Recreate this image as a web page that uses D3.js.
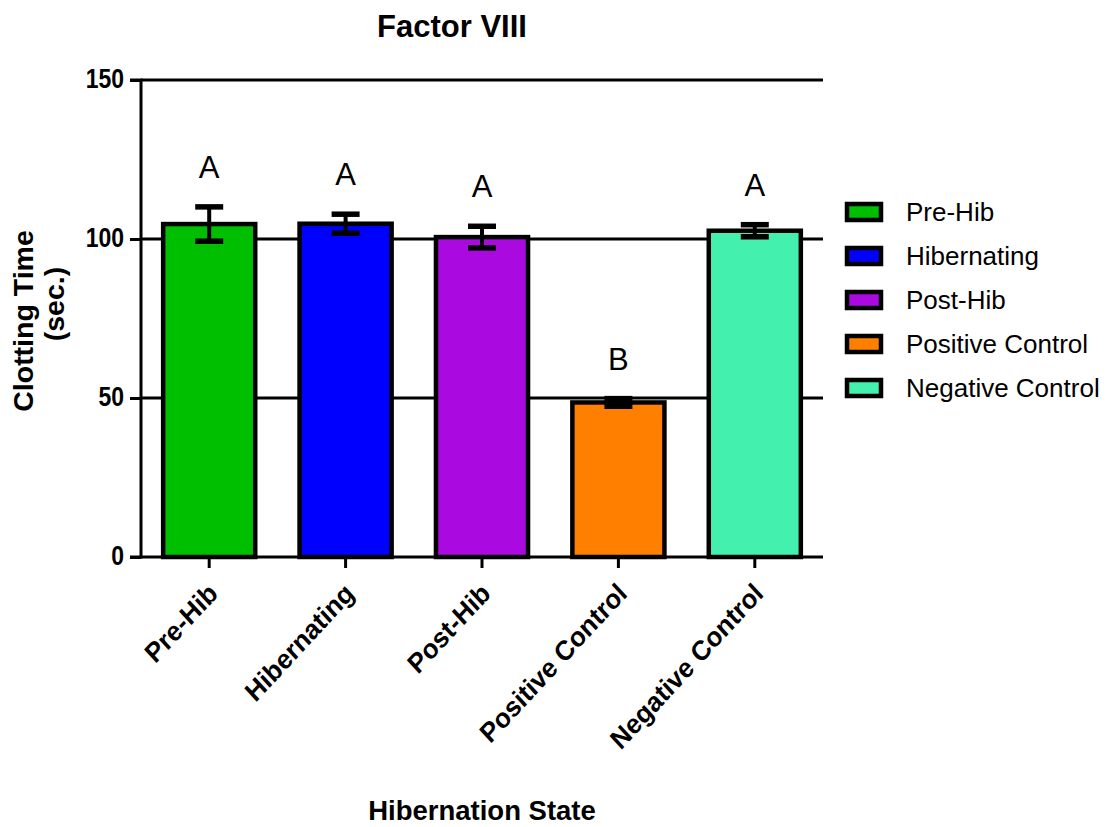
<!DOCTYPE html>
<html>
<head>
<meta charset="utf-8">
<script src="https://cdn.jsdelivr.net/npm/d3@7"></script>
<style>
  html, body { margin: 0; padding: 0; background: #fff; }
  svg { display: block; font-family: "Liberation Sans", Arial, Helvetica, sans-serif; }
</style>
</head>
<body>
<svg id="chart" width="1107" height="827"></svg>
<script>
// Factor VIII clotting time by hibernation state (mean ± SEM)
const categories = ["Pre-Hib", "Hibernating", "Post-Hib", "Positive Control", "Negative Control"];
const means = [104.7, 104.8, 100.6, 48.6, 102.6];
const sems = [5.4, 3.0, 3.4, 1.2, 1.9];
const letters = ["A", "A", "A", "B", "A"];
const colors = ["#00bf00", "#0000ff", "#aa0ae0", "#ff8000", "#43f0ae"];
const yTicks = [0, 50, 100, 150];

const svg = d3.select("#chart");
const plotLeft = 141, plotRight = 823, plotTop = 80, plotBottom = 557;

const x = d3.scaleBand()
  .domain(categories)
  .range([plotLeft, plotRight])
  .paddingInner(0.325)
  .paddingOuter(0.1625);

const y = d3.scaleLinear().domain([0, 150]).range([plotBottom, plotTop]);

// horizontal reference lines
svg.append("g")
  .selectAll("line")
  .data(yTicks.filter(d => d > 0))
  .join("line")
  .attr("x1", plotLeft).attr("x2", plotRight)
  .attr("y1", d => y(d)).attr("y2", d => y(d))
  .attr("stroke", "#000").attr("stroke-width", 3);

// bars
svg.append("g")
  .selectAll("rect")
  .data(categories)
  .join("rect")
  .attr("x", d => x(d))
  .attr("width", x.bandwidth())
  .attr("y", (d, i) => y(means[i]))
  .attr("height", (d, i) => y(0) - y(means[i]))
  .attr("fill", (d, i) => colors[i])
  .attr("stroke", "#000")
  .attr("stroke-width", 4.5);

// error bars
const eb = svg.append("g").attr("stroke", "#000");
categories.forEach((c, i) => {
  const cx = x(c) + x.bandwidth() / 2;
  const hi = y(means[i] + sems[i]);
  const lo = y(means[i] - sems[i]);
  eb.append("line").attr("x1", cx).attr("x2", cx).attr("y1", hi).attr("y2", lo).attr("stroke-width", 4);
  [hi, lo].forEach(v => {
    eb.append("line").attr("x1", cx - 14).attr("x2", cx + 14).attr("y1", v).attr("y2", v).attr("stroke-width", 5.5);
  });
});

// significance letters
svg.append("g")
  .selectAll("text")
  .data(categories)
  .join("text")
  .attr("x", d => x(d) + x.bandwidth() / 2)
  .attr("y", (d, i) => y(means[i] + sems[i]) - 29)
  .attr("text-anchor", "middle")
  .attr("font-size", 31)
  .text((d, i) => letters[i]);

// y axis
const yAxis = svg.append("g")
  .attr("transform", `translate(${plotLeft},0)`)
  .call(d3.axisLeft(y).tickValues(yTicks).tickSize(11).tickPadding(6));
yAxis.select(".domain").attr("stroke-width", 3).attr("d", `M-11,${plotTop}H0V${plotBottom}H-11`);
yAxis.selectAll(".tick line").attr("stroke-width", 3);
yAxis.selectAll(".tick text")
  .attr("font-size", 23)
  .attr("font-weight", "bold")
  .attr("fill", "#000")
  .attr("dy", null)
  .attr("y", 6.5)
  .attr("transform", "scale(1,1.2)");

// x axis
const xAxis = svg.append("g")
  .attr("transform", `translate(0,${plotBottom})`)
  .call(d3.axisBottom(x).tickSize(11).tickSizeOuter(0));
xAxis.select(".domain").attr("stroke-width", 3).attr("d", `M${plotLeft},0H${plotRight}`);
xAxis.selectAll(".tick line").attr("stroke-width", 3);
xAxis.selectAll(".tick text")
  .attr("font-size", 25.5)
  .attr("font-weight", "bold")
  .attr("fill", "#000")
  .attr("text-anchor", "end")
  .attr("dy", null)
  .attr("y", 0)
  .attr("transform", "translate(10,38) scale(1,1.08) rotate(-45)");

// titles
svg.append("text")
  .attr("x", 452).attr("y", 37)
  .attr("text-anchor", "middle")
  .attr("font-size", 31).attr("font-weight", "bold")
  .text("Factor VIII");

svg.append("text")
  .attr("x", 482).attr("y", 820)
  .attr("text-anchor", "middle")
  .attr("font-size", 27.5).attr("font-weight", "bold")
  .text("Hibernation State");

svg.append("text")
  .attr("transform", "translate(33,321) rotate(-90)")
  .attr("font-size", 28.5).attr("font-weight", "bold")
  .attr("text-anchor", "middle")
  .text("Clotting Time");
svg.append("text")
  .attr("transform", "translate(64,304) rotate(-90)")
  .attr("font-size", 28.5).attr("font-weight", "bold")
  .attr("text-anchor", "middle")
  .text("(sec.)");

// legend
const legend = svg.append("g")
  .selectAll("g")
  .data(categories)
  .join("g")
  .attr("transform", (d, i) => `translate(847,${212 + i * 44})`);
legend.append("rect")
  .attr("x", 0).attr("y", -8)
  .attr("width", 34).attr("height", 16)
  .attr("fill", (d, i) => colors[i])
  .attr("stroke", "#000").attr("stroke-width", 4.5);
legend.append("text")
  .attr("x", 59).attr("y", 9)
  .attr("font-size", 26)
  .text(d => d);
</script>
</body>
</html>
